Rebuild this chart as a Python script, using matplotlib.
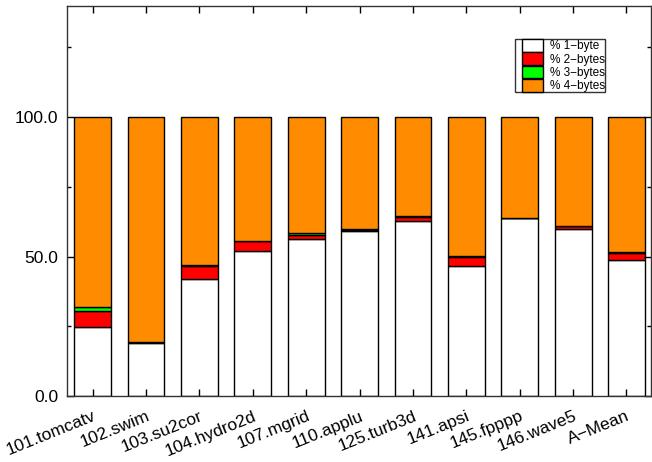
import numpy as np
import matplotlib
matplotlib.use('Agg')
import matplotlib.pyplot as plt
import matplotlib.patches as mpatches
from matplotlib.legend_handler import HandlerPatch
from matplotlib.ticker import MultipleLocator

# benchmark names
benchmarks = ['101.tomcatv', '102.swim', '103.su2cor', '104.hydro2d', '107.mgrid',
              '110.applu', '125.turb3d', '141.apsi', '145.fpppp', '146.wave5', 'A\u2212Mean']

# percentage of each width
pct_1byte = [24.9, 19.1, 41.9, 51.8, 56.1, 59.3, 62.9, 46.6, 63.7, 59.8, 48.6]
pct_2bytes = [5.5, 0.1, 4.7, 3.6, 1.7, 0.2, 1.4, 3.4, 0.1, 1.0, 2.7]
pct_3bytes = [1.5, 0.0, 0.3, 0.2, 0.5, 0.3, 0.1, 0.1, 0.0, 0.1, 0.2]
pct_4bytes = [100 - a - b - c for a, b, c in zip(pct_1byte, pct_2bytes, pct_3bytes)]

series = [('% 1\u2212byte', pct_1byte, '#FFFFFF'),
          ('% 2\u2212bytes', pct_2bytes, '#FF0000'),
          ('% 3\u2212bytes', pct_3bytes, '#00FF00'),
          ('% 4\u2212bytes', pct_4bytes, '#FF8C00')]

plt.rcParams['font.family'] = ['Liberation Sans', 'DejaVu Sans']


def swatch(legend, orig_handle, xdescent, ydescent, width, height, fontsize):
    # swatch shifted right, filling the whole row
    off = width * 0.26
    return mpatches.Rectangle((-xdescent + off, -ydescent), width - off, height)


fig = plt.figure(figsize=(6.52, 4.62), dpi=100)
ax = fig.add_axes([0.102, 0.143, 0.8965, 0.845])

x = np.arange(len(benchmarks))
bottom = np.zeros(len(benchmarks))
handles, labels = [], []
for label, vals, color in series:
    bars = ax.bar(x, vals, width=0.69, bottom=bottom, color=color,
                  edgecolor='black', linewidth=1.0, label=label)
    handles.append(bars.patches[0])
    labels.append(label)
    bottom += np.array(vals)

ax.set_xlim(-0.49, 10.46)
ax.set_ylim(0, 140)

ax.yaxis.set_minor_locator(MultipleLocator(25))
ax.set_yticks([0, 50, 100])
ax.set_yticklabels(['0.0', '50.0', '100.0'], fontsize=12.5)
ax.set_xticks(x)
ax.set_xticklabels(benchmarks, fontsize=12.5, rotation=22, ha='right',
                   rotation_mode='anchor')
ax.tick_params(axis='both', which='major', direction='in', length=5,
               width=1, top=True, right=True, pad=6)
ax.tick_params(axis='y', which='minor', direction='in', length=3,
               width=1, right=True)
ax.tick_params(axis='x', which='major', pad=9)

for sp in ax.spines.values():
    sp.set_linewidth(1.0)
    sp.set_color('#333333')

leg = ax.legend(handles, labels, loc='upper left', bbox_to_anchor=(0.767, 0.915),
                fontsize=8.5, frameon=True, fancybox=False, edgecolor='black',
                handlelength=2.4, handleheight=1.30, labelspacing=0.0,
                handletextpad=0.55, borderpad=0.0, borderaxespad=0.0,
                handler_map={mpatches.Rectangle: HandlerPatch(patch_func=swatch)})
leg.get_frame().set_linewidth(1.0)

fig.savefig('out.png', dpi=100)
